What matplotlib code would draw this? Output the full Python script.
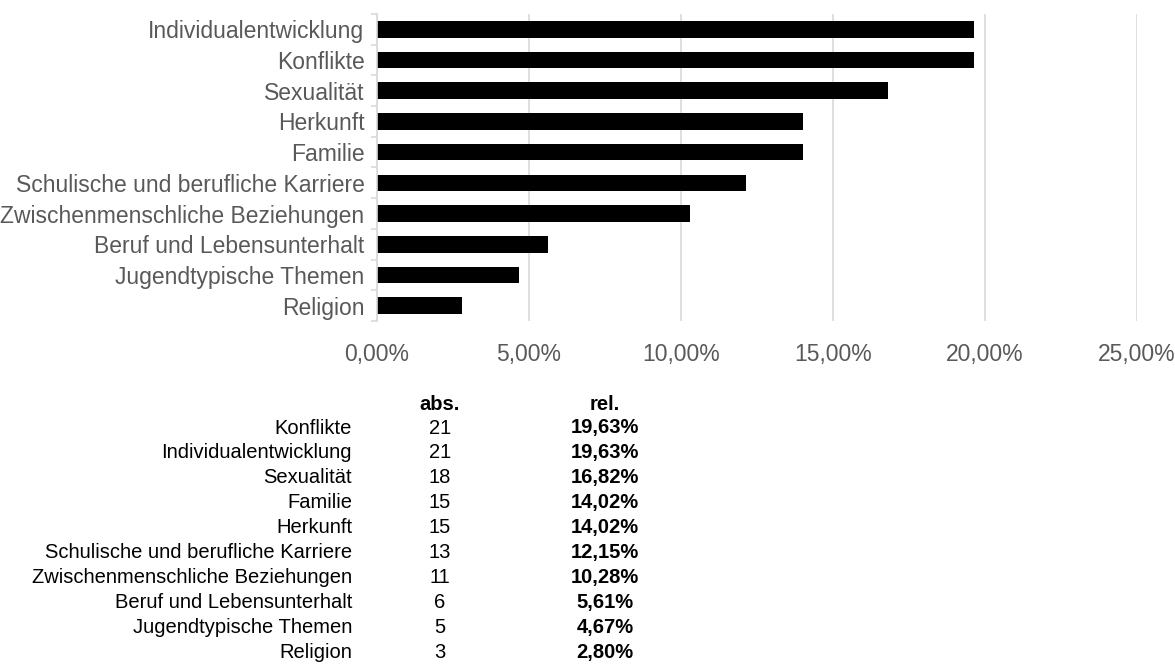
import numpy as np
import matplotlib
matplotlib.use('Agg')
import matplotlib.pyplot as plt
from matplotlib.ticker import FuncFormatter, FixedLocator

plt.rcParams['font.family'] = ['Liberation Sans Narrow', 'Liberation Sans', 'DejaVu Sans']

# chart data (top to bottom)
topics = ['Individualentwicklung', 'Konflikte', 'Sexualität', 'Herkunft', 'Familie',
          'Schulische und berufliche Karriere', 'Zwischenmenschliche Beziehungen',
          'Beruf und Lebensunterhalt', 'Jugendtypische Themen', 'Religion']
shares = [0.1963, 0.1963, 0.1682, 0.1402, 0.1402, 0.1215, 0.1028, 0.0561, 0.0467, 0.0280]

# table data
tab_topics = ['Konflikte', 'Individualentwicklung', 'Sexualität', 'Familie', 'Herkunft',
              'Schulische und berufliche Karriere', 'Zwischenmenschliche Beziehungen',
              'Beruf und Lebensunterhalt', 'Jugendtypische Themen', 'Religion']
tab_abs = [21, 21, 18, 15, 15, 13, 11, 6, 5, 3]
tab_rel = ['19,63%', '19,63%', '16,82%', '14,02%', '14,02%', '12,15%', '10,28%',
           '5,61%', '4,67%', '2,80%']

W, H = 1175, 668
fig = plt.figure(figsize=(W / 100, H / 100), dpi=100)
ax = fig.add_axes([377 / W, 1 - 321 / H, (1137 - 377) / W, (321 - 14) / H])

ypos = np.arange(len(topics))
ax.barh(ypos, shares, height=0.54, color='black')
ax.set_ylim(len(topics) - 0.5, -0.5)
ax.set_xlim(0, 0.25)
ax.set_yticks(ypos)
ax.set_yticklabels(topics)
ax.yaxis.set_minor_locator(FixedLocator(np.arange(-0.5, len(topics), 1)))
ax.set_xticks(np.arange(0, 0.2501, 0.05))
ax.xaxis.set_major_formatter(FuncFormatter(lambda v, p: ('%.2f%%' % (v * 100)).replace('.', ',')))

ax.grid(axis='x', color='#d9d9d9', linewidth=1.2)
ax.set_axisbelow(True)
for s in ['top', 'right', 'bottom']:
    ax.spines[s].set_visible(False)
ax.spines['left'].set_color('#d9d9d9')
ax.spines['left'].set_linewidth(1.2)
ax.tick_params(axis='y', which='major', length=0, pad=9, labelsize=16.5, labelcolor='#595959')
ax.tick_params(axis='y', which='minor', length=4, color='#d9d9d9', width=1.2)
ax.tick_params(axis='x', length=0, pad=16, labelsize=16.5, labelcolor='#595959')

# table below the chart
fs = 14.5
fig.text(440 / W, 1 - 405 / H, 'abs.', ha='center', va='center', fontsize=fs, fontweight='bold')
fig.text(605 / W, 1 - 405 / H, 'rel.', ha='center', va='center', fontsize=fs, fontweight='bold')
for i in range(len(tab_topics)):
    y = 1 - (428 + i * 24.9) / H
    fig.text(352 / W, y, tab_topics[i], ha='right', va='center', fontsize=fs)
    fig.text(440 / W, y, str(tab_abs[i]), ha='center', va='center', fontsize=fs)
    fig.text(605 / W, y, tab_rel[i], ha='center', va='center', fontsize=fs, fontweight='bold')

fig.savefig('out.png', dpi=100)
